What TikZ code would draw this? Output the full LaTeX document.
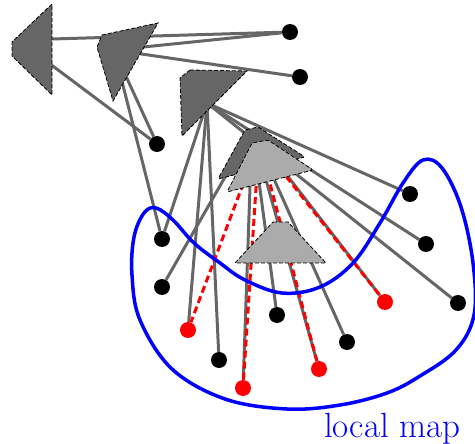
\documentclass[tikz,border=0pt]{standalone}
\pgfdeclarelayer{rays}
\pgfdeclarelayer{cams}
\pgfsetlayers{rays,cams,main}
\begin{document}
\begin{tikzpicture}[x=1pt,y=-1pt,
  ray/.style={draw=black!60, line width=3pt},
  match/.style={draw=red, line width=3pt, dash pattern=on 7pt off 4pt},
  cam/.style={draw=black, line width=0.8pt, dash pattern=on 4pt off 2pt},
  darkcam/.style={cam, fill=black!60},
  lightcam/.style={cam, fill=black!33},
  mappt/.style={circle, fill=black, inner sep=0pt, minimum size=16pt},
  newpt/.style={mappt, fill=red},
  region/.style={draw=blue, line width=3.5pt}]
\useasboundingbox (0,0) rectangle (475,444);

% optical centres of the keyframes
\coordinate (cA) at (18,40);
\coordinate (cB) at (114,50);
\coordinate (cC) at (207,103);
\coordinate (cD) at (252,130);
\coordinate (cL) at (259,142);

% map points
\node[mappt] (p1) at (290,32) {};
\node[mappt] (p2) at (300,77) {};
\node[mappt] (p3) at (157,144) {};
\node[mappt] (p4) at (162,239) {};
\node[mappt] (p5) at (162,287) {};
\node[mappt] (p6) at (410,194) {};
\node[mappt] (p7) at (426,244) {};
\node[mappt] (p8) at (458,303) {};
\node[mappt] (p9) at (277,315) {};
\node[mappt] (p10) at (347,342) {};
\node[mappt] (p11) at (219,360) {};
\node[newpt] (r1) at (188,330) {};
\node[newpt] (r2) at (385,302) {};
\node[newpt] (r3) at (319,369) {};
\node[newpt] (r4) at (243,388) {};

\begin{pgfonlayer}{rays}
  % observations
  \draw[ray] (cA) -- (p1);
  \draw[ray] (cA) -- (p3);
  \draw[ray] (cB) -- (p1);
  \draw[ray] (cB) -- (p2);
  \draw[ray] (cB) -- (p3);
  \draw[ray] (cB) -- (p4);
  \draw[ray] (cC) -- (p4);
  \draw[ray] (cC) -- (r1);
  \draw[ray] (cC) -- (p11);
  \draw[ray] (cC) -- (p6);
  \draw[ray] (cC) -- (p7);
  \draw[ray] (cC) -- (p8);
  \draw[ray] (cD) -- (p5);
  \draw[ray] (cD) -- (p9);
  \draw[ray] (cD) -- (p10);
  \draw[ray] (cD) -- (r2);
  \draw[ray] (cD) -- (r3);
  \draw[ray] (cD) -- (r4);
  % matches of the current frame
  \draw[match] (cL) -- (r1);
  \draw[match] (cL) -- (r2);
  \draw[match] (cL) -- (r3);
  \draw[match] (cL) -- (r4);
\end{pgfonlayer}

\begin{pgfonlayer}{cams}
  \draw[darkcam] (52,4) -- (12,42) -- (12,56) -- (52,95) -- cycle;
  \draw[darkcam] (102,35) -- (158,23) -- (113,101) -- (97,47) -- cycle;
  \draw[darkcam] (190,70) -- (247,71) -- (182,136) -- (180,78) -- cycle;
  \draw[darkcam, rounded corners=1.5pt] (245,130) -- (258,127) -- (305,157) -- (218,179) -- cycle;
  \draw[lightcam, rounded corners=1.5pt] (252,143) -- (268,140) -- (313,170) -- (227,192) -- cycle;
  \draw[lightcam] (273,222) -- (288,222) -- (326,263) -- (235,263) -- cycle;
  % local map boundary
  \draw[region] plot[smooth cycle, tension=0.6] coordinates {
    (156,208) (173,220) (194,243) (220,263) (245,280) (282,293) (320,287)
    (353,263) (380,223) (403,183) (423,160) (442,168) (461,207) (473,263)
    (474,315) (456,350) (420,376) (387,393) (340,405) (287,409) (225,399)
    (172,369) (140,320) (132,275) (134,237) (144,213)};
\end{pgfonlayer}

\node[anchor=base west, text=blue, inner sep=0pt, font=\fontsize{35}{40}\selectfont]
  (lbl) at (324,437) {local map};
\end{tikzpicture}
\end{document}
